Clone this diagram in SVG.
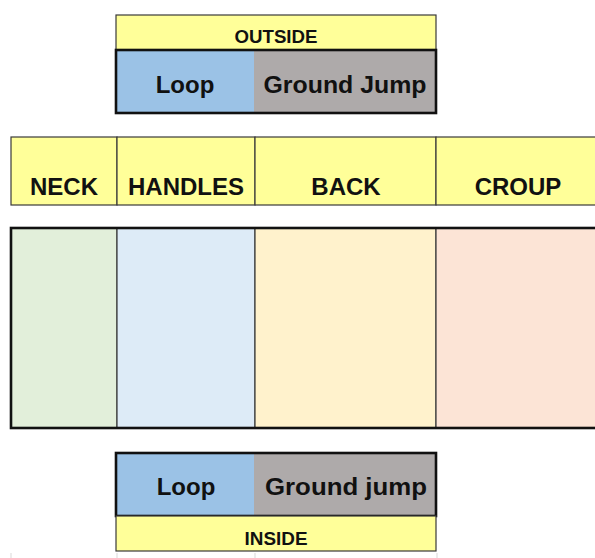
<svg xmlns="http://www.w3.org/2000/svg" width="595" height="558" viewBox="0 0 595 558">
<style>
.thin{stroke:#3a3a3a;stroke-width:1.2;}
.thick{fill:none;stroke:#111;stroke-width:2.6;}
.t{font-family:"Liberation Sans",Arial,sans-serif;font-weight:bold;fill:#111;text-anchor:middle;}
.big{font-size:24px;}
.small{font-size:17.5px;}
.yel{fill:#FFFF99;}
.grid{stroke:#d9d9d9;stroke-width:1;}
</style>
<rect width="595" height="558" fill="#fff"/>

<g id="outside">
  <rect class="yel thin" x="116" y="15" width="320" height="35"/>
  <text class="t small" x="276" y="43" textLength="83" lengthAdjust="spacingAndGlyphs">OUTSIDE</text>
</g>
<g id="outside-loop">
  <rect x="116" y="50" width="138" height="63" fill="#9BC2E6"/>
  <text class="t big" x="185" y="93">Loop</text>
</g>
<g id="outside-ground-jump">
  <rect x="254" y="50" width="182" height="63" fill="#AEAAAA"/>
  <text class="t big" x="345" y="93" textLength="163" lengthAdjust="spacingAndGlyphs">Ground Jump</text>
</g>
<rect class="thick" x="116" y="50" width="320" height="63"/>

<g id="headers">
  <g id="neck"><rect class="yel thin" x="11" y="137" width="106" height="68"/><text class="t big" x="64" y="195">NECK</text></g>
  <g id="handles"><rect class="yel thin" x="117" y="137" width="138" height="68"/><text class="t big" x="186" y="195">HANDLES</text></g>
  <g id="back"><rect class="yel thin" x="255" y="137" width="181" height="68"/><text class="t big" x="346" y="195">BACK</text></g>
  <g id="croup"><rect class="yel thin" x="436" y="137" width="170" height="68"/><text class="t big" x="518" y="195">CROUP</text></g>
</g>

<g id="zones">
  <rect class="thin" x="11" y="228" width="106" height="200" fill="#E2EFDA"/>
  <rect class="thin" x="117" y="228" width="138" height="200" fill="#DDEBF7"/>
  <rect class="thin" x="255" y="228" width="181" height="200" fill="#FFF2CC"/>
  <rect class="thin" x="436" y="228" width="170" height="200" fill="#FCE4D6"/>
  <rect class="thick" x="11" y="228" width="600" height="200"/>
</g>

<g id="inside-loop">
  <rect x="116" y="453" width="138" height="63" fill="#9BC2E6"/>
  <text class="t big" x="186" y="495">Loop</text>
</g>
<g id="inside-ground-jump">
  <rect x="254" y="453" width="182" height="63" fill="#AEAAAA"/>
  <text class="t big" x="346" y="495" textLength="162" lengthAdjust="spacingAndGlyphs">Ground jump</text>
</g>
<rect class="thick" x="116" y="453" width="320" height="63"/>
<g id="inside">
  <rect class="yel thin" x="116" y="516" width="320" height="35"/>
  <text class="t small" x="276" y="545" textLength="63" lengthAdjust="spacingAndGlyphs">INSIDE</text>
</g>

<g id="gridlines">
  <line class="grid" x1="11" y1="553" x2="11" y2="558"/>
  <line class="grid" x1="117" y1="553" x2="117" y2="558"/>
  <line class="grid" x1="255" y1="553" x2="255" y2="558"/>
  <line class="grid" x1="437" y1="553" x2="437" y2="558"/>
</g>
<g id="connectors"/>
</svg>
